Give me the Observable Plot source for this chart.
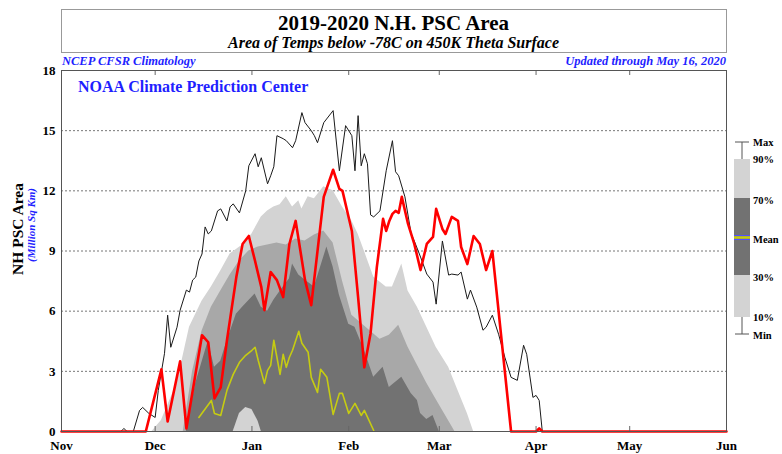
<!DOCTYPE html>
<html><head><meta charset="utf-8">
<script src="https://cdn.jsdelivr.net/npm/d3@7"></script>
<script src="https://cdn.jsdelivr.net/npm/@observablehq/plot@0.6"></script>
<style>
body{margin:0;background:#fff}
#chart{position:relative;width:782px;height:454px}
</style>
</head><body><div id="chart"></div>
<script>
// ---- Data ----
const monthTicks = ["2019-11-01","2019-12-01","2020-01-01","2020-02-01","2020-03-01","2020-04-01","2020-05-01","2020-06-01"];
const yTicks = [0,3,6,9,12,15,18];

// 2019-2020 observed PSC area (million sq km)
const obs2020 = [
["2019-11-01",0],["2019-11-28",0],["2019-12-03",3.1],["2019-12-05",0.5],["2019-12-09",3.5],["2019-12-11",0.15],
["2019-12-16",4.8],["2019-12-18",4.45],["2019-12-20",1.65],["2019-12-22",2.2],["2019-12-24",4.55],["2019-12-27",7.7],
["2019-12-29",9.35],["2019-12-31",9.75],["2020-01-02",8.5],["2020-01-04",7.2],["2020-01-05",6.05],["2020-01-07",7.95],
["2020-01-09",7.55],["2020-01-11",6.7],["2020-01-13",9.35],["2020-01-15",10.5],["2020-01-18",7.55],["2020-01-20",6.3],
["2020-01-24",11.7],["2020-01-27",13.05],["2020-01-29",12.1],["2020-01-30",12.0],["2020-02-02",10.0],["2020-02-04",6.7],
["2020-02-06",3.2],["2020-02-08",4.9],["2020-02-10",8.2],["2020-02-12",10.6],["2020-02-13",10.0],["2020-02-14",10.5],
["2020-02-15",10.85],["2020-02-16",11.0],["2020-02-17",10.9],["2020-02-18",11.7],["2020-02-20",10.35],["2020-02-22",9.35],
["2020-02-24",8.05],["2020-02-26",9.35],["2020-02-28",9.7],["2020-02-29",11.1],["2020-03-02",10.1],["2020-03-03",9.85],
["2020-03-05",10.7],["2020-03-07",10.5],["2020-03-08",9.2],["2020-03-10",8.35],["2020-03-12",9.75],["2020-03-14",9.35],
["2020-03-16",8.05],["2020-03-18",9.0],["2020-03-24",0],["2020-04-01",0],["2020-04-02",0.15],["2020-04-03",0],["2020-06-01",0]
];

// Climatology maximum
const climMax = [
["2019-11-01",0],["2019-11-20",0],["2019-11-21",0.15],["2019-11-22",0],["2019-11-24",0],["2019-11-26",1.05],["2019-11-27",1.2],
["2019-11-29",0.9],["2019-12-01",0.7],["2019-12-02",2.05],["2019-12-04",3.9],["2019-12-05",5.8],["2019-12-06",4.2],
["2019-12-08",5.2],["2019-12-09",6.05],["2019-12-11",7.05],["2019-12-12",6.95],["2019-12-13",7.55],["2019-12-14",7.7],
["2019-12-15",8.5],["2019-12-16",8.85],["2019-12-17",10.2],["2019-12-18",9.85],["2019-12-19",10.0],["2019-12-21",11.0],
["2019-12-22",11.1],["2019-12-24",10.5],["2019-12-25",11.2],["2019-12-26",11.35],["2019-12-28",10.9],["2019-12-30",12.0],
["2019-12-31",13.25],["2020-01-02",13.85],["2020-01-03",13.2],["2020-01-04",13.65],["2020-01-06",12.35],["2020-01-07",12.75],
["2020-01-08",13.2],["2020-01-09",14.75],["2020-01-11",14.6],["2020-01-12",14.5],["2020-01-14",14.15],["2020-01-15",14.5],
["2020-01-17",15.9],["2020-01-18",15.4],["2020-01-20",15.0],["2020-01-21",14.75],["2020-01-22",14.4],["2020-01-24",15.4],
["2020-01-27",16.0],["2020-01-29",13.0],["2020-01-31",15.25],["2020-02-02",14.75],["2020-02-03",13.0],["2020-02-04",15.75],
["2020-02-05",13.25],["2020-02-06",13.85],["2020-02-07",13.35],["2020-02-08",10.8],["2020-02-09",10.7],["2020-02-11",11.0],
["2020-02-13",13.0],["2020-02-15",14.5],["2020-02-16",12.95],["2020-02-17",12.75],["2020-02-19",11.7],["2020-02-21",9.85],
["2020-02-22",9.5],["2020-02-24",8.7],["2020-02-26",7.85],["2020-02-28",7.45],["2020-02-29",6.35],["2020-03-02",9.5],
["2020-03-04",7.8],["2020-03-05",7.85],["2020-03-07",7.8],["2020-03-08",7.95],["2020-03-10",6.6],["2020-03-11",7.05],
["2020-03-13",6.2],["2020-03-15",5.05],["2020-03-16",5.2],["2020-03-18",5.8],["2020-03-20",4.85],["2020-03-22",3.7],
["2020-03-24",2.7],["2020-03-26",2.55],["2020-03-28",4.3],["2020-03-29",3.85],["2020-03-31",1.7],["2020-04-01",1.8],
["2020-04-02",1.55],["2020-04-03",0],["2020-06-01",0]
];

// Climatology mean
const climMean = [
["2019-12-15",0.7],["2019-12-19",1.55],["2019-12-20",0.9],["2019-12-22",0.8],["2019-12-24",2.05],["2019-12-26",2.85],
["2019-12-28",3.45],["2019-12-30",3.8],["2020-01-01",4.05],["2020-01-02",4.2],["2020-01-03",3.55],["2020-01-05",2.4],
["2020-01-06",3.05],["2020-01-07",3.3],["2020-01-08",4.55],["2020-01-10",2.85],["2020-01-11",3.85],["2020-01-12",3.2],
["2020-01-13",3.7],["2020-01-14",4.05],["2020-01-16",5.0],["2020-01-17",4.4],["2020-01-19",3.95],["2020-01-20",2.7],
["2020-01-22",1.95],["2020-01-23",3.1],["2020-01-25",2.7],["2020-01-27",0.85],["2020-01-29",1.9],["2020-01-30",1.9],
["2020-02-01",0.9],["2020-02-03",1.4],["2020-02-05",0.8],["2020-02-06",1.05],["2020-02-09",0.05]
];

// Climatology 90th percentile (top of light band)
const clim90 = [
["2019-11-30",0],["2019-12-03",0.55],["2019-12-08",2.4],["2019-12-12",5.2],["2019-12-16",6.5],["2019-12-19",7.2],
["2019-12-22",8.0],["2019-12-25",8.85],["2019-12-29",9.3],["2020-01-01",9.85],["2020-01-04",10.7],["2020-01-06",11.0],
["2020-01-08",11.2],["2020-01-10",11.3],["2020-01-12",11.7],["2020-01-14",11.2],["2020-01-16",11.5],["2020-01-17",11.1],
["2020-01-19",11.7],["2020-01-21",11.6],["2020-01-24",12.2],["2020-01-27",12.0],["2020-01-30",11.2],["2020-02-02",10.5],
["2020-02-04",9.85],["2020-02-06",9.0],["2020-02-09",7.7],["2020-02-13",7.2],["2020-02-15",7.2],["2020-02-18",8.35],
["2020-02-20",7.0],["2020-02-23",6.2],["2020-02-26",5.2],["2020-02-29",4.2],["2020-03-04",3.2],["2020-03-07",2.05],
["2020-03-10",0.9],["2020-03-12",0]
];

// Intermediate shade (visible medium-grey region)
const climMid = [
["2019-12-10",0],["2019-12-13",3.0],["2019-12-16",5.0],["2019-12-19",6.2],["2019-12-22",7.0],["2019-12-25",7.8],
["2019-12-28",8.5],["2019-12-31",9.0],["2020-01-03",9.2],["2020-01-06",9.3],["2020-01-09",9.4],["2020-01-12",9.3],
["2020-01-15",9.6],["2020-01-18",9.5],["2020-01-21",9.8],["2020-01-24",10.0],["2020-01-27",9.4],["2020-01-30",7.5],
["2020-02-02",5.8],["2020-02-05",5.4],["2020-02-08",5.0],["2020-02-11",4.6],["2020-02-14",4.8],["2020-02-17",5.3],
["2020-02-20",4.2],["2020-02-23",3.3],["2020-02-26",2.4],["2020-02-29",1.6],["2020-03-03",0.8],["2020-03-06",0]
];

// Climatology 70th percentile (top of dark band)
const clim70 = [
["2019-12-11",0],["2019-12-14",2.4],["2019-12-18",4.5],["2019-12-20",3.2],["2019-12-22",3.5],["2019-12-24",4.5],
["2019-12-27",5.85],["2019-12-29",6.2],["2020-01-02",6.85],["2020-01-04",6.2],["2020-01-06",6.0],["2020-01-08",6.55],
["2020-01-11",7.2],["2020-01-13",7.6],["2020-01-14",8.35],["2020-01-16",7.8],["2020-01-18",7.55],["2020-01-21",7.2],
["2020-01-23",8.2],["2020-01-25",9.2],["2020-01-27",8.2],["2020-01-29",6.8],["2020-02-01",5.35],["2020-02-03",5.2],
["2020-02-06",4.05],["2020-02-09",2.7],["2020-02-12",3.2],["2020-02-14",2.2],["2020-02-18",2.7],["2020-02-21",1.9],
["2020-02-23",1.55],["2020-02-24",0.9],["2020-02-26",0.6],["2020-02-28",0.8],["2020-03-01",0]
];

// Climatology 30th percentile (bottom of dark band, where above zero)
const clim30 = [
["2019-12-26",0],["2019-12-28",0.9],["2019-12-30",1.2],["2020-01-01",1.1],["2020-01-03",0.5],["2020-01-04",0]
];

// ---- Build ----
const rows = arr => arr.map(([d, v]) => ({date: new Date(d + "T00:00:00Z"), value: v}));
const monthDates = monthTicks.map(d => new Date(d + "T00:00:00Z"));
const LIGHT = "#d3d3d3", MID = "#a8a8a8", DARK = "#727272";
const serif = "'Liberation Serif', 'DejaVu Serif', serif";

const chart = Plot.plot({
  width: 782, height: 454,
  marginLeft: 61, marginRight: 56, marginTop: 70, marginBottom: 23,
  style: {fontFamily: serif, fontSize: "13px", fontWeight: "bold", color: "#000", background: "#fff"},
  x: {type: "utc", domain: [monthDates[0], monthDates[monthDates.length - 1]]},
  y: {domain: [0, 18]},
  marks: [
    Plot.gridY(yTicks.filter(t => t > 0 && t < 18), {stroke: "#777", strokeOpacity: 1, strokeDasharray: "2,2"}),
    Plot.areaY(rows(clim90), {x: "date", y: "value", fill: LIGHT}),
    Plot.areaY(rows(climMid), {x: "date", y: "value", fill: MID}),
    Plot.areaY(rows(clim70), {x: "date", y: "value", fill: DARK}),
    Plot.areaY(rows(clim30), {x: "date", y: "value", fill: LIGHT}),
    Plot.lineY(rows(climMax), {x: "date", y: "value", stroke: "#1a1a1a", strokeWidth: 1}),
    Plot.lineY(rows(climMean), {x: "date", y: "value", stroke: "#c6cc12", strokeWidth: 1.6}),
    Plot.lineY(rows(obs2020), {x: "date", y: "value", stroke: "#ff0000", strokeWidth: 2.6}),
    Plot.ruleY([0], {stroke: "#000"}),
    Plot.ruleX(monthDates, {y1: 0, y2: 0.25, stroke: "#666"}),
    Plot.ruleX(monthDates, {y1: 17.75, y2: 18, stroke: "#666"}),
    Plot.frame({stroke: "#555"}),
    Plot.axisY({ticks: yTicks, tickSize: 0, tickPadding: 6, label: null}),
    Plot.axisX({ticks: monthDates, tickFormat: d3.utcFormat("%b"), tickSize: 0, tickPadding: 9, label: null})
  ]
});
document.getElementById("chart").appendChild(chart);

// ---- Titles and legend ----
const svg = d3.select(chart);
const BLUE = "#1f1fff";
svg.append("rect").attr("x", 61.5).attr("y", 9.5).attr("width", 665).attr("height", 43)
  .attr("fill", "none").attr("stroke", "#999");
const txt = (x, y, s, o) => {
  const t = svg.append("text").attr("x", x).attr("y", y).text(s)
    .attr("text-anchor", "start")
    .style("font-family", serif).style("font-weight", "bold");
  Object.entries(o || {}).forEach(([k, v]) => t.style(k, v));
  return t;
};
txt(393.5, 30, "2019-2020 N.H. PSC Area", {"font-size": "21px", "text-anchor": "middle"});
txt(393.5, 48, "Area of Temps below -78C on 450K Theta Surface", {"font-size": "16px", "font-style": "italic", "text-anchor": "middle"});
txt(62, 65, "NCEP CFSR Climatology", {"font-size": "12.5px", "font-style": "italic", "fill": BLUE, "text-anchor": "start"});
txt(726, 65, "Updated through May 16, 2020", {"font-size": "12.5px", "font-style": "italic", "fill": BLUE, "text-anchor": "end"});
txt(78, 92, "NOAA Climate Prediction Center", {"font-size": "16px", "fill": BLUE, "text-anchor": "start"});
txt(0, 0, "NH PSC Area", {"font-size": "15.5px", "text-anchor": "middle"})
  .attr("transform", "translate(23,229) rotate(-90)");
txt(0, 0, "(Million Sq Km)", {"font-size": "11px", "font-style": "italic", "fill": BLUE, "text-anchor": "middle"})
  .attr("transform", "translate(35,225) rotate(-90)");

// legend
const lg = svg.append("g");
const lx0 = 734, lx1 = 750, lxc = 742;
lg.append("line").attr("x1", lxc).attr("x2", lxc).attr("y1", 142).attr("y2", 334).attr("stroke", "#555");
lg.append("line").attr("x1", 735).attr("x2", 749).attr("y1", 142).attr("y2", 142).attr("stroke", "#555");
lg.append("line").attr("x1", 735).attr("x2", 749).attr("y1", 334).attr("y2", 334).attr("stroke", "#555");
lg.append("rect").attr("x", lx0).attr("y", 159).attr("width", lx1 - lx0).attr("height", 158).attr("fill", LIGHT);
lg.append("rect").attr("x", lx0).attr("y", 198).attr("width", lx1 - lx0).attr("height", 77).attr("fill", DARK);
lg.append("line").attr("x1", lx0).attr("x2", lx1).attr("y1", 235.5).attr("y2", 235.5).attr("stroke", "#5050ff").attr("stroke-width", 1);
lg.append("line").attr("x1", lx0).attr("x2", lx1).attr("y1", 239.5).attr("y2", 239.5).attr("stroke", "#5050ff").attr("stroke-width", 1);
lg.append("line").attr("x1", lx0).attr("x2", lx1).attr("y1", 237.5).attr("y2", 237.5).attr("stroke", "#c6cc12").attr("stroke-width", 2.5);
[["Max",142],["90%",159],["70%",200],["Mean",239],["30%",277],["10%",317],["Min",335]].forEach(([s, y]) => {
  txt(753, y + 3.5, s, {"font-size": "10.5px", "text-anchor": "start"});
});
</script>
</body></html>
